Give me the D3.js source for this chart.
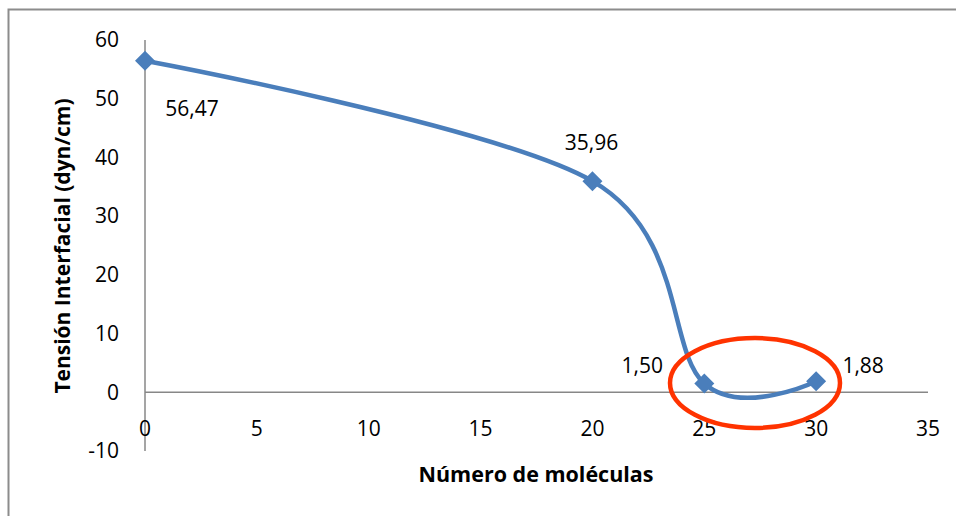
<!DOCTYPE html>
<html>
<head>
<meta charset="utf-8">
<script src="https://cdn.jsdelivr.net/npm/d3@7"></script>
<style>
  body { margin: 0; background: #fff; }
  svg text { font-family: "Open Sans", "Liberation Sans", sans-serif; fill: #000; }
</style>
</head>
<body>
<div id="chart"></div>
<script>
// data
var molecules = [0, 20, 25, 30];
var tension = [56.47, 35.96, 1.50, 1.88];
var labels = ["56,47", "35,96", "1,50", "1,88"];
var xTicks = [0, 5, 10, 15, 20, 25, 30, 35];
var yTicks = [-10, 0, 10, 20, 30, 40, 50, 60];

var width = 956, height = 516;
var blue = "#4a7ebb";

var svg = d3.select("#chart").append("svg")
    .attr("width", width)
    .attr("height", height);

// outer frame
svg.append("rect")
    .attr("x", 8.5).attr("y", 9.5)
    .attr("width", 1000).attr("height", 600)
    .attr("fill", "none")
    .attr("stroke", "#8c8c8c")
    .attr("stroke-width", 2);

var x = d3.scaleLinear().domain([0, 35]).range([145, 928]);
var y = d3.scaleLinear().domain([-10, 60]).range([451, 40]);

// axis lines (no tick marks, Excel style)
svg.append("line")
    .attr("x1", x(0)).attr("x2", x(0))
    .attr("y1", y(60)).attr("y2", y(-10))
    .attr("stroke", "#878787").attr("stroke-width", 1.5);
svg.append("line")
    .attr("x1", x(0)).attr("x2", x(35))
    .attr("y1", y(0)).attr("y2", y(0))
    .attr("stroke", "#878787").attr("stroke-width", 1.5);

svg.selectAll(".ytick").data(yTicks).enter()
  .append("text")
    .attr("class", "ytick")
    .attr("x", 119)
    .attr("y", d => y(d))
    .attr("dy", "0.35em")
    .attr("text-anchor", "end")
    .style("font-size", "21px")
    .text(d => d);

svg.selectAll(".xtick").data(xTicks).enter()
  .append("text")
    .attr("class", "xtick")
    .attr("x", d => x(d))
    .attr("y", y(0) + 36)
    .attr("dy", "0.35em")
    .attr("text-anchor", "middle")
    .style("font-size", "21px")
    .text(d => d);

// axis titles
svg.append("text")
    .attr("x", 536).attr("y", 482)
    .attr("text-anchor", "middle")
    .style("font-size", "21.5px").style("font-weight", "bold")
    .text("Número de moléculas");

svg.append("text")
    .attr("transform", "translate(70,246) rotate(-90)")
    .attr("text-anchor", "middle")
    .style("font-size", "21px").style("font-weight", "bold")
    .text("Tensión Interfacial (dyn/cm)");

var pts = molecules.map((m, i) => ({x: m, y: tension[i], label: labels[i]}));

// smoothed line
var line = d3.line()
    .x(d => x(d.x))
    .y(d => y(d.y))
    .curve(d3.curveCardinal.tension(0));

svg.append("path")
    .datum(pts)
    .attr("d", line)
    .attr("fill", "none")
    .attr("stroke", blue)
    .attr("stroke-width", 4.5)
    .attr("stroke-linecap", "round");

svg.selectAll(".marker").data(pts).enter()
  .append("path")
    .attr("class", "marker")
    .attr("transform", d => "translate(" + x(d.x) + "," + y(d.y) + ")")
    .attr("d", "M0,-10L10,0L0,10L-10,0Z")
    .attr("fill", blue);

// data labels
var labelPos = [[47, 48], [-1, -38], [-62, -18], [47, -16]];
svg.selectAll(".dlabel").data(pts).enter()
  .append("text")
    .attr("class", "dlabel")
    .attr("x", (d, i) => x(d.x) + labelPos[i][0])
    .attr("y", (d, i) => y(d.y) + labelPos[i][1])
    .attr("dy", "0.35em")
    .attr("text-anchor", "middle")
    .style("font-size", "21px")
    .text(d => d.label);

// red highlight ellipse
svg.append("ellipse")
    .attr("cx", 755).attr("cy", 383)
    .attr("rx", 85).attr("ry", 45)
    .attr("fill", "none")
    .attr("stroke", "#ff3300")
    .attr("stroke-width", 4.5);
</script>
</body>
</html>
